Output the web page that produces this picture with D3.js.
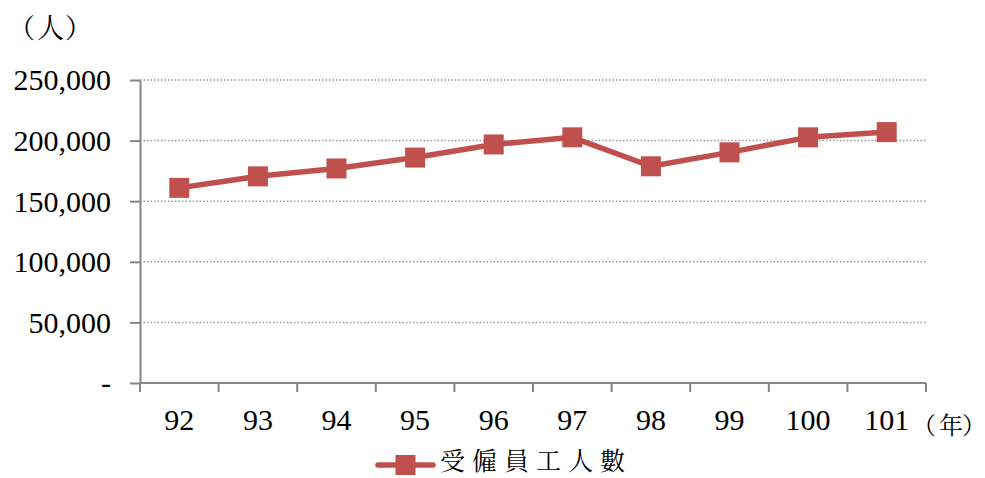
<!DOCTYPE html>
<html>
<head>
<meta charset="utf-8">
<script src="https://cdn.jsdelivr.net/npm/d3@7/dist/d3.min.js"></script>
<style>
  html, body { margin: 0; padding: 0; background: #fff; }
  svg { display: block; }
  .num { font-family: "Liberation Serif", "Times New Roman", serif; fill: #000; }
  .cjk { font-family: "Noto Serif CJK TC", "Noto Sans CJK TC", serif; fill: #000; }
</style>
</head>
<body>
<svg id="chart" width="985" height="478"></svg>
<script>
// Employees by year (ROC calendar years)
const years = ["92", "93", "94", "95", "96", "97", "98", "99", "100", "101"];
const employees = [161000, 170500, 177000, 186000, 196800, 202700, 178800, 190300, 202700, 207000];
const yTicks = [0, 50000, 100000, 150000, 200000, 250000];
const seriesName = "受僱員工人數";
const yUnit = ["（", "人", "）"];
const xUnit = ["（", "年", "）"];

const svg = d3.select("#chart");
const plotLeft = 140, plotRight = 926, plotTop = 80, plotBottom = 383;
const red = "#C0504D";
const axisColor = "#868686";

const x = d3.scaleBand().domain(years).range([plotLeft, plotRight]).padding(0);
const y = d3.scaleLinear().domain([0, 250000]).range([plotBottom, plotTop]);

// dotted horizontal gridlines
svg.append("g")
  .selectAll("line")
  .data(yTicks.filter(d => d > 0))
  .join("line")
  .attr("x1", plotLeft).attr("x2", plotRight)
  .attr("y1", d => y(d)).attr("y2", d => y(d))
  .attr("stroke", "#9a9a9a")
  .attr("stroke-width", 1.5)
  .attr("stroke-dasharray", "1.5,2");

// y axis
const yAxis = svg.append("g")
  .attr("transform", `translate(${plotLeft},0)`)
  .call(d3.axisLeft(y).tickValues(yTicks).tickSize(10).tickSizeOuter(0)
    .tickFormat(d => d === 0 ? "-" : d3.format(",")(d)));
yAxis.select(".domain").attr("stroke", axisColor).attr("stroke-width", 2);
yAxis.selectAll(".tick line").attr("stroke", axisColor).attr("stroke-width", 2);
yAxis.selectAll(".tick text")
  .attr("class", "num")
  .attr("x", -29)
  .attr("dy", "0.33em")
  .style("font-size", "30px");

// x axis with ticks at category boundaries
const xAxis = svg.append("g")
  .attr("transform", `translate(0,${plotBottom})`);
xAxis.append("line")
  .attr("x1", plotLeft).attr("x2", plotRight)
  .attr("stroke", axisColor).attr("stroke-width", 2);
const bounds = years.map(d => x(d)).concat([plotRight]);
xAxis.selectAll("line.tk")
  .data(bounds)
  .join("line")
  .attr("class", "tk")
  .attr("x1", d => d).attr("x2", d => d)
  .attr("y1", 0).attr("y2", 9)
  .attr("stroke", axisColor).attr("stroke-width", 2);
xAxis.selectAll("text")
  .data(years)
  .join("text")
  .attr("class", "num")
  .attr("x", d => x(d) + x.bandwidth() / 2)
  .attr("y", 47)
  .attr("text-anchor", "middle")
  .style("font-size", "30px")
  .text(d => d);

// unit labels, the bracket glyphs nudged apart a little
function unitLabel(chars, x0, y0, size, gaps) {
  const t = svg.append("text").attr("class", "cjk")
    .attr("x", x0).attr("y", y0)
    .style("font-size", size + "px");
  t.selectAll("tspan")
    .data(chars)
    .join("tspan")
    .attr("dx", (d, i) => gaps[i])
    .text(d => d);
}
unitLabel(yUnit, 8, 38, 27, [0, 2, 1]);
unitLabel(xUnit, 912, 434, 24, [0, 3, -1]);

// series line
const line = d3.line()
  .x((d, i) => x(years[i]) + x.bandwidth() / 2)
  .y(d => y(d));
svg.append("path")
  .datum(employees)
  .attr("d", line)
  .attr("fill", "none")
  .attr("stroke", red)
  .attr("stroke-width", 5.5)
  .attr("stroke-linejoin", "round");

// square markers
const ms = 20;
svg.append("g")
  .selectAll("rect")
  .data(employees)
  .join("rect")
  .attr("x", (d, i) => x(years[i]) + x.bandwidth() / 2 - ms / 2)
  .attr("y", d => y(d) - ms / 2)
  .attr("width", ms).attr("height", ms)
  .attr("fill", red);

// legend
const lg = svg.append("g").attr("transform", "translate(378,465)");
lg.append("line")
  .attr("x1", 0).attr("x2", 55)
  .attr("stroke", red).attr("stroke-width", 5.5)
  .attr("stroke-linecap", "round");
lg.append("rect")
  .attr("x", 27.5 - ms / 2).attr("y", -ms / 2)
  .attr("width", ms).attr("height", ms)
  .attr("fill", red);
lg.append("text").attr("class", "cjk")
  .attr("x", 62).attr("y", 5)
  .style("font-size", "25px")
  .style("letter-spacing", "7px")
  .text(seriesName);
</script>
</body>
</html>
